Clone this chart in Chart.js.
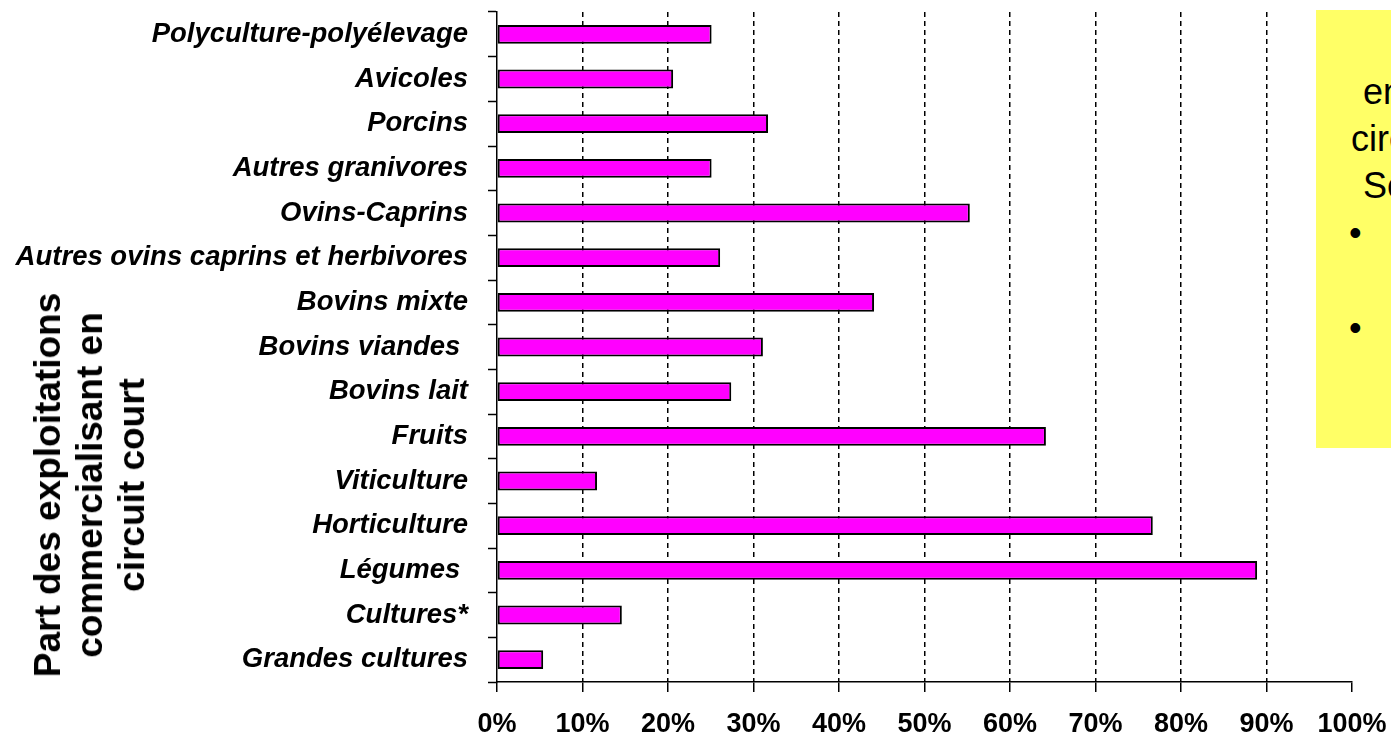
<!DOCTYPE html>
<html>
<head>
<meta charset="utf-8">
<script src="https://cdn.jsdelivr.net/npm/chart.js@4/dist/chart.umd.min.js"></script>
<style>
  html, body { margin: 0; padding: 0; background: #fff; overflow: hidden; }
  #wrap { position: relative; width: 1391px; height: 740px; }
  #ytitle {
    position: absolute; left: 90px; top: 485px;
    transform: translate(-50%, -50%) rotate(-90deg);
    font: bold 37px Arial, "Liberation Sans", sans-serif;
    line-height: 42px; text-align: center; white-space: nowrap; color: #000;
  }
  #note {
    position: absolute; left: 1316px; top: 10px; width: 400px; height: 438px;
    background: #ffff66; font: 36px Arial, "Liberation Sans", sans-serif; color: #000;
  }
  #note span { position: absolute; white-space: nowrap; line-height: 36px; }
</style>
</head>
<body>
<div id="wrap">
  <canvas id="myChart" width="1391" height="740"></canvas>
  <div id="ytitle">Part des exploitations<br>commercialisant en<br>circuit court</div>
  <div id="note">
    <span style="left:47px; top:64px">en</span>
    <span style="left:35px; top:111px">circuit</span>
    <span style="left:47px; top:158px">Source</span>
    <span style="left:33px; top:205px">•</span>
    <span style="left:33px; top:300px">•</span>
  </div>
</div>
<script>
// Catégories (de haut en bas)
const categories = [
    'Polyculture-polyélevage',
    'Avicoles',
    'Porcins',
    'Autres granivores',
    'Ovins-Caprins',
    'Autres ovins caprins et herbivores',
    'Bovins mixte',
    'Bovins viandes ',
    'Bovins lait',
    'Fruits',
    'Viticulture',
    'Horticulture',
    'Légumes ',
    'Cultures*',
    'Grandes cultures'
];

// Part des exploitations en circuit court (%)
const shares = [25.1, 20.6, 31.7, 25.1, 55.3, 26.1, 44.1, 31.1, 27.4, 64.2, 11.7, 76.7, 88.9, 14.6, 5.4];

// Graduations de l'axe horizontal
const xTicks = [0, 10, 20, 30, 40, 50, 60, 70, 80, 90, 100];

const fontFamily = 'Arial, "Liberation Sans", sans-serif';

const ctx = document.getElementById('myChart').getContext('2d');
const chart = new Chart(ctx, {
    type: 'bar',
    data: {
        labels: categories,
        datasets: [{
            data: shares,
            backgroundColor: '#ff00ff',
            borderColor: '#000000',
            borderWidth: 2,
            borderSkipped: false,
            categoryPercentage: 1,
            barPercentage: 0.42
        }]
    },
    options: {
        indexAxis: 'y',
        responsive: false,
        animation: false,
        layout: { padding: { top: 12, right: 39, left: 0, bottom: 0 } },
        plugins: {
            legend: { display: false },
            tooltip: { enabled: false }
        },
        scales: {
            x: {
                min: 0,
                max: 100,
                afterBuildTicks: (scale) => {
                    scale.ticks = xTicks.map(v => ({ value: v }));
                },
                afterFit: (scale) => {
                    scale.height = 58;
                    scale.paddingLeft = 0;
                    scale.paddingRight = 0;
                },
                grid: {
                    // lignes pointillées seulement entre 10 % et 90 %
                    color: (c) => (c.tick && c.tick.value > 0 && c.tick.value < 100) ? '#000' : 'rgba(0,0,0,0)',
                    lineWidth: 1.5,
                    tickColor: '#000',
                    tickLength: 10,
                    tickWidth: 1.5,
                    tickBorderDash: [1, 0]
                },
                border: { display: true, color: '#000', width: 1.5, dash: [5, 4] },
                ticks: {
                    color: '#000',
                    padding: 16,
                    maxRotation: 0,
                    autoSkip: false,
                    font: { family: fontFamily, size: 27, weight: 'bold' },
                    callback: (v) => v + '%'
                }
            },
            y: {
                afterFit: (scale) => {
                    scale.width = 497;
                    scale.paddingTop = 0;
                    scale.paddingBottom = 0;
                },
                grid: {
                    offset: true,
                    drawOnChartArea: false,
                    tickColor: '#000',
                    tickLength: 9,
                    tickWidth: 1.5
                },
                border: { display: true, color: '#000', width: 1.5 },
                ticks: {
                    color: '#000',
                    padding: 20,
                    autoSkip: false,
                    font: { family: fontFamily, size: 27.5, weight: 'bold', style: 'italic' }
                }
            }
        }
    }
});
</script>
</body>
</html>
